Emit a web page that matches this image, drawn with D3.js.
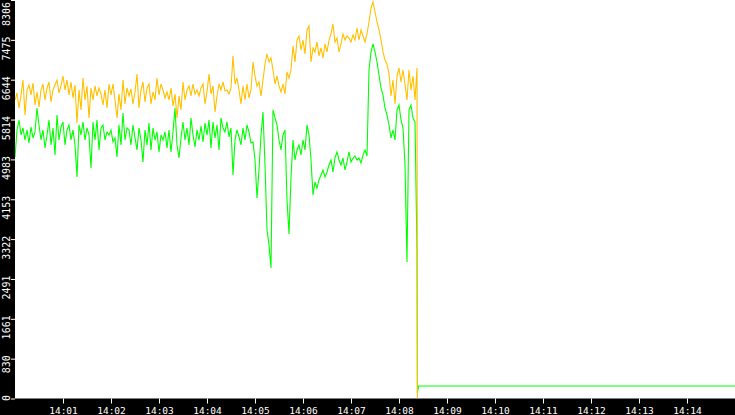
<!DOCTYPE html>
<html><head><meta charset="utf-8">
<script src="https://cdn.jsdelivr.net/npm/d3@7"></script>
<style>html,body{margin:0;padding:0;background:#000;overflow:hidden}</style>
</head><body><svg id="c" width="735" height="415"></svg>
<script>
// ---- data ----
const startClock = "14:00:00";
const sampleStepSec = 2.5;
const endClock = "14:15:00";
const yTickValues = [0, 830.6, 1661.2, 2491.8, 3322.4, 4153, 4983.6, 5814.2, 6644.8, 7475.4, 8306];
const yTickLabels = ["0","830","1661","2491","3322","4153","4983","5814","6644","7475","8306"];
const xTickLabels = ["14:01","14:02","14:03","14:04","14:05","14:06","14:07","14:08","14:09","14:10","14:11","14:12","14:13","14:14"];

const orange = [
6222,6368,6055,6326, 6639,5909,6430, 6535,6326,6576, 6118,6389,6076,6430,
6555,6222,6472, 6597,6180,6430, 6535,6639,6368,6514, 6722,6430,6639,
6326,6597,6264, 6535,5743,6430,6014, 6680,6222,6514, 5847,6472,6222,
6514,6306,6472,6347, 6118,6430,6055, 6555,6326,6555, 6222,5847,6347,6014,
6639,6138,6472, 6306,6451,6138,6389, 6764,6055,6430, 6597,6180,6472,
6555,6138,6389,6222, 6680,6326,6555, 6430,6264,6389, 6222,6472,6097,6347,
5847,6306,6014, 6597,6222,6430, 6514,6306,6555,6347, 6430,6306,6472,
6555,6138,6389, 6764,6347,6514,5972, 6306,6555,6430, 6597,6410,
6430,6347,6472, 7139,6555,6680, 6430,6138,6514,6222, 6555,6264,6430,
7014,6722,6514, 6597,6306,6639,6972, 7181,7014,7097, 6847,6555,6722,
6514,6389,6555,6347, 6805,6680,6847, 7348,7014,7472, 7556,7264,7472,7181,
7681,7764,7014, 7306,7223,7431,7139,7306, 7097,7389,7223, 7472,7598,7806,7431,
7514,7223,7389, 7598,7472,7556, 7514,7431,7577,7472, 7723,7472,7681,
7556,7431,7598, 7848,8139,8264,8056, 7848,7681,7472, 7223,7056,6972,
6764,6306,6639,6138, 6722,6889,6597, 6847,6555,6222, 6847,6430,6722,6222,
6889
];
const green = [
5034,5597,5805,5493, 5639,5388,5597, 5326,5660,5430, 5555,6055,5701,5388,
5597,5222,5493, 5805,5284,5639, 5076,5909,5388,5660, 5764,5284,5597,
5701,5388,5597, 5284,4617,5701,5493, 5764,5388,5639, 5493,4805,5764,
5388,5805,5180,5639, 5701,5388,5555, 5493,5597,5347, 5430,5034,5701,5284,
5951,5388,5639, 5597,5284,5701,5430, 5180,5639,5388, 4930,5597,5284,
5743,5180,5639,5388, 5555,5139,5493, 5388,5555,5222, 5597,5139,5555,6055,
5284,5013,5430, 5764,5388,5639, 5284,5847,5493,5243, 5597,5388,5680,
5347,5743,5493, 5805,5222,5764,5430, 5701,5180,5847, 5639,5555,
5764,5451,5639, 4659,5388,5597, 5451,5284,5639,5388, 5701,5555,5326,
5347,4972,4180, 4763,5493,5972,4867, 3513,3201,2721, 6014,5847,5701,
5388,5180,5493,5597, 4138,3429,4597, 5388,4972,5180, 5284,5076,5388,5180,
5701,5493,4972, 4242,4513,4388,4555,4659, 4763,4617,4722, 4867,4972,4722,5013,
5139,4972,4867, 5013,4763,4930, 5139,4930,5013,5055, 4972,5013,4909,
5076,5180,5055, 6847,7223,7389,7223, 7014,6743,6472, 6326,6055,5909,
5701,5430,5597,5388, 6014,6118,5805, 5639,4867,2847, 6014,6118,5847,5764,
3096
];
// after the drop (seconds after 14:00)
const orangeTailSec = [503];
const orangeTailVal = [0];
const greenTailSec = [503, 504.5, 900];
const greenTailVal = [116, 262, 262];

// ---- chart ----
const W = 735, H = 415, left = 15, bottom = 398.5;
const parse = d3.timeParse("%H:%M:%S");
const t0 = parse(startClock), t1 = parse(endClock);
const x = d3.scaleTime().domain([t0, t1]).range([left, W]);
const y = d3.scaleLinear().domain([0, 8306]).range([bottom, 0]);

function build(vals, tailSec, tailVal) {
  const pts = vals.map((v, i) => ({t: new Date(+t0 + i * sampleStepSec * 1000), v}));
  tailSec.forEach((s, i) => pts.push({t: new Date(+t0 + s * 1000), v: tailVal[i]}));
  return pts;
}

const svg = d3.select("#c");
svg.append("rect").attr("width", W).attr("height", H).attr("fill", "#000");
svg.append("rect").attr("x", left).attr("y", 0).attr("width", W - left).attr("height", bottom).attr("fill", "#fff");
svg.append("clipPath").attr("id", "clip").append("rect")
  .attr("x", left).attr("y", 0).attr("width", W - left).attr("height", bottom);

const line = d3.line().x(d => x(d.t)).y(d => y(d.v));
const plot = svg.append("g").attr("clip-path", "url(#clip)");
plot.append("path").datum(build(green, greenTailSec, greenTailVal))
  .attr("d", line).attr("fill", "none").attr("stroke", "#00ff00").attr("stroke-width", 1.1);
plot.append("path").datum(build(orange, orangeTailSec, orangeTailVal))
  .attr("d", line).attr("fill", "none").attr("stroke", "#ffc000").attr("stroke-width", 1.1);

// y axis
const yAxis = d3.axisLeft(y).tickValues(yTickValues)
  .tickFormat((d, i) => yTickLabels[i]).tickSize(4).tickSizeOuter(0);
const gy = svg.append("g").attr("transform", `translate(${left},0)`).call(yAxis);
gy.select(".domain").remove();
gy.selectAll(".tick line").attr("stroke", "#fff");
gy.selectAll(".tick text")
  .attr("fill", "#fff").attr("x", null).attr("dy", null)
  .attr("font-family", "DejaVu Sans Mono").attr("font-size", 10)
  .attr("text-anchor", "end")
  .attr("transform", d => {
    const ty = y(d);
    const off = Math.max(-4, 1.5 - ty);
    return `translate(-5,${off}) rotate(-90)`;
  });

// x axis
const xTicks = xTickLabels.map(s => parse(s + ":00"));
const xAxis = d3.axisBottom(x).tickValues(xTicks)
  .tickFormat((d, i) => xTickLabels[i]).tickSize(5).tickSizeOuter(0);
const gx = svg.append("g").attr("transform", `translate(0,${bottom})`).call(xAxis);
gx.select(".domain").remove();
gx.selectAll(".tick line").attr("stroke", "#fff");
gx.selectAll(".tick text")
  .attr("fill", "#fff").attr("y", 15).attr("dy", null)
  .attr("font-family", "DejaVu Sans Mono").attr("font-size", 9.5);
</script>
</body></html>
